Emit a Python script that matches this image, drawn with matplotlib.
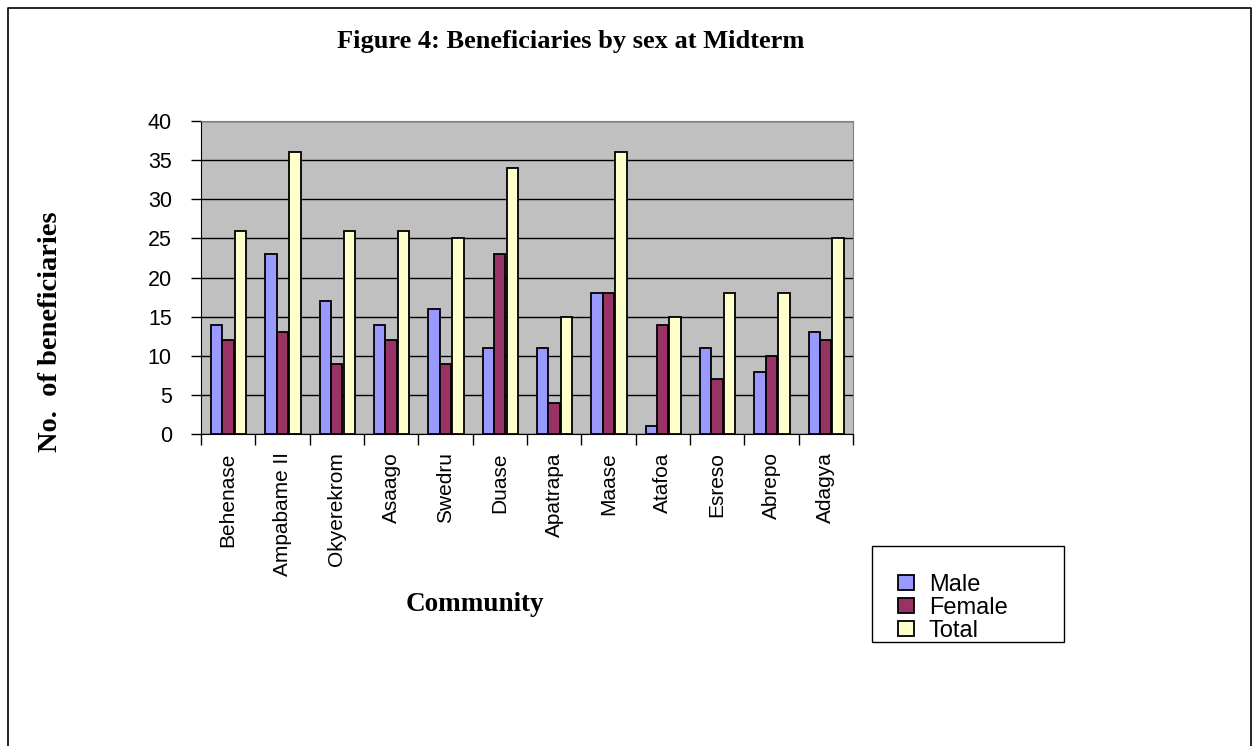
import numpy as np
import matplotlib.pyplot as plt
from matplotlib.patches import Rectangle
from matplotlib.lines import Line2D

communities = ['Behenase', 'Ampabame II', 'Okyerekrom', 'Asaago', 'Swedru', 'Duase',
               'Apatrapa', 'Maase', 'Atafoa', 'Esreso', 'Abrepo', 'Adagya']
male = [14, 23, 17, 14, 16, 11, 11, 18, 1, 11, 8, 13]
female = [12, 13, 9, 12, 9, 23, 4, 18, 14, 7, 10, 12]
total = [26, 36, 26, 26, 25, 34, 15, 36, 15, 18, 18, 25]

fig = plt.figure(figsize=(12.56, 7.46), dpi=100)
ax = fig.add_axes([0.160, 0.418, 0.519, 0.420])

x = np.arange(len(communities))
w = 0.21
ax.bar(x - w, male, w, color='#9999FF', edgecolor='black', linewidth=1.3, label='Male', zorder=3)
ax.bar(x, female, w, color='#993366', edgecolor='black', linewidth=1.3, label='Female', zorder=3)
ax.bar(x + w + 0.02, total, w, color='#FFFFCC', edgecolor='black', linewidth=1.3, label='Total', zorder=3)

ax.set_facecolor('#C0C0C0')
ax.set_xlim(-0.5, len(communities) - 0.5)
ax.set_ylim(0, 40)
ax.set_yticks(range(0, 41, 5))
ax.yaxis.grid(True, color='black', linewidth=1.0, zorder=0)

# ticks at category boundaries, labels at centres
ax.set_xticks(np.arange(-0.5, len(communities), 1))
ax.set_xticklabels([])
ax.set_xticks(x, minor=True)
ax.set_xticklabels(communities, minor=True, rotation=90, fontsize=15,
                   family='Liberation Sans', va='top')
ax.tick_params(axis='x', which='major', length=8, direction='out', width=1)
ax.tick_params(axis='x', which='minor', length=0, pad=13)
ax.tick_params(axis='y', length=7, width=1, labelsize=15.5, pad=14)
for lab in ax.get_yticklabels():
    lab.set_family('Liberation Sans')

for s in ['top', 'right']:
    ax.spines[s].set_color('#808080')
for s in ['left', 'bottom']:
    ax.spines[s].set_color('black')

fig.text(0.454, 0.945, 'Figure 4: Beneficiaries by sex at Midterm', ha='center', va='center',
         fontsize=19, fontweight='bold', family='Liberation Serif')
fig.text(0.040, 0.555, 'No.  of beneficiaries', rotation=90, ha='center', va='center',
         fontsize=20.5, fontweight='bold', family='Liberation Serif')
fig.text(0.378, 0.190, 'Community', ha='center', va='center',
         fontsize=19.5, fontweight='bold', family='Liberation Serif')

# legend box
fig.patches.append(Rectangle((0.694, 0.139), 0.153, 0.129, transform=fig.transFigure,
                             facecolor='white', edgecolor='black', linewidth=1.0))
leg = fig.legend(loc='lower left', bbox_to_anchor=(0.698, 0.111), frameon=False,
                 prop={'family': 'Liberation Sans', 'size': 17},
                 handlelength=0.7, handleheight=0.6, labelspacing=0.05, handletextpad=0.6)

# page border
fig.lines.append(Line2D([0.0064, 0.0064, 0.996, 0.996], [0.0, 0.989, 0.989, 0.0],
                        transform=fig.transFigure, color='black', linewidth=1.2))

fig.savefig('out.png', dpi=100)
